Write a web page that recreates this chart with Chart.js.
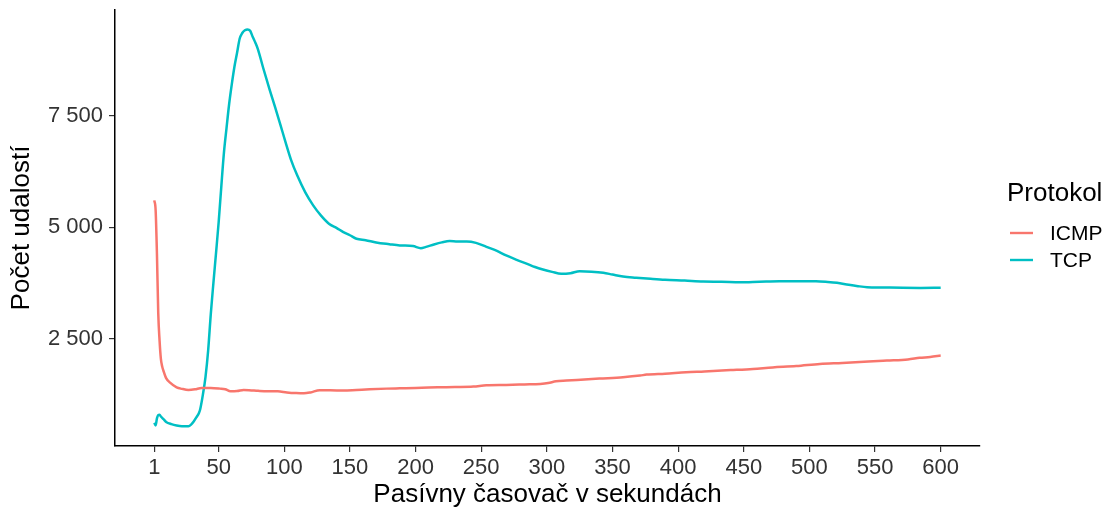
<!DOCTYPE html>
<html>
<head>
<meta charset="utf-8">
<script src="https://cdn.jsdelivr.net/npm/chart.js@4.4.1/dist/chart.umd.min.js"></script>
<style>
  html, body { margin: 0; padding: 0; background: #ffffff; }
  #wrap { width: 1114px; height: 510px; position: relative; }
</style>
</head>
<body>
<div id="wrap"><canvas id="c" width="1114" height="510"></canvas></div>
<script>
// ---- Data ----
const seriesNames = ["ICMP", "TCP"];
const seriesColors = ["#F8766D", "#00BFC4"];

const icmpX = [1, 2, 3, 4, 5, 6, 7, 8, 10, 13, 18, 22, 27, 32, 37, 44, 51, 55, 59, 64, 69, 75, 80, 87, 95, 102, 109, 115, 120, 127, 135, 145, 155, 165, 178, 188, 200, 210, 219, 230, 244, 254, 269, 283, 295, 301, 307, 315, 323, 340, 358, 371, 376, 390, 406, 420, 440, 457, 472, 490, 508, 525, 545, 559, 575, 584, 592, 600];
const icmpY = [5600, 5380, 4400, 3070, 2460, 2050, 1880, 1780, 1620, 1520, 1414, 1380, 1355, 1370, 1400, 1400, 1385, 1370, 1326, 1330, 1356, 1345, 1335, 1326, 1325, 1300, 1285, 1280, 1300, 1350, 1350, 1341, 1355, 1370, 1385, 1392, 1400, 1410, 1415, 1420, 1430, 1460, 1468, 1480, 1491, 1510, 1549, 1565, 1580, 1610, 1640, 1677, 1699, 1720, 1751, 1770, 1800, 1827, 1860, 1890, 1939, 1960, 1990, 2013, 2040, 2074, 2095, 2125];

const tcpX = [1, 2, 3, 4, 5, 6, 8, 10, 14, 18, 22, 27, 29, 31, 33, 35, 36, 38, 40, 42, 44, 46, 48, 50, 52, 54, 56, 58, 60, 62, 64, 66, 68, 70, 72, 74, 76, 78, 80, 84, 89, 93, 97, 101, 105, 110, 116, 122, 128, 134, 140, 145, 150, 155, 162, 170, 180, 188, 198, 204, 208, 214, 220, 226, 232, 239, 246, 254, 262, 269, 277, 285, 291, 297, 304, 311, 318, 325, 334, 343, 350, 358, 368, 379, 390, 405, 419, 433, 447, 462, 477, 492, 505, 514, 521, 530, 537, 544, 556, 571, 585, 600];
const tcpY = [620, 560, 720, 790, 800, 760, 700, 640, 590, 560, 545, 545, 580, 650, 740, 840, 930, 1250, 1650, 2237, 3050, 3750, 4420, 5110, 5900, 6660, 7220, 7760, 8200, 8590, 8900, 9220, 9350, 9410, 9430, 9400, 9260, 9130, 8980, 8560, 8067, 7690, 7300, 6900, 6520, 6150, 5780, 5490, 5260, 5080, 4980, 4890, 4820, 4742, 4710, 4660, 4620, 4592, 4578, 4531, 4560, 4614, 4660, 4690, 4680, 4681, 4650, 4560, 4470, 4367, 4270, 4180, 4110, 4054, 4000, 3957, 3971, 4016, 4005, 3979, 3940, 3897, 3870, 3845, 3823, 3805, 3784, 3780, 3769, 3780, 3791, 3791, 3791, 3775, 3755, 3710, 3680, 3657, 3650, 3643, 3640, 3643];

const xTickValues = [1, 50, 100, 150, 200, 250, 300, 350, 400, 450, 500, 550, 600];
const xTickLabels = ["1", "50", "100", "150", "200", "250", "300", "350", "400", "450", "500", "550", "600"];
const yTickValues = [2500, 5000, 7500];
const yTickLabels = ["2 500", "5 000", "7 500"];

const xAxisTitle = "Pasívny časovač v sekundách";
const yAxisTitle = "Počet udalostí";
const legendTitle = "Protokol";

// ---- Build datasets ----
function pts(xs, ys) { return xs.map((x, i) => ({ x: x, y: ys[i] })); }
const seriesData = [pts(icmpX, icmpY), pts(tcpX, tcpY)];

const FONT = '"Liberation Sans", Arial, sans-serif';

const ggLegend = {
  id: 'ggLegend',
  afterDraw(chart) {
    const ctx = chart.ctx;
    ctx.save();
    ctx.textBaseline = 'middle';
    ctx.textAlign = 'left';
    ctx.fillStyle = '#000000';
    ctx.font = '26px ' + FONT;
    ctx.fillText(legendTitle, 1007, 194);
    chart.data.datasets.forEach((ds, i) => {
      const y = 233 + i * 27;
      ctx.strokeStyle = ds.borderColor;
      ctx.lineWidth = 2.4;
      ctx.beginPath();
      ctx.moveTo(1010, y);
      ctx.lineTo(1033, y);
      ctx.stroke();
      ctx.fillStyle = '#000000';
      ctx.font = '21px ' + FONT;
      ctx.fillText(ds.label, 1050, y + 1);
    });
    ctx.restore();
  }
};

new Chart(document.getElementById('c'), {
  type: 'line',
  data: {
    datasets: seriesNames.map((n, i) => ({
      label: n,
      data: seriesData[i],
      borderColor: seriesColors[i],
      backgroundColor: seriesColors[i],
      borderWidth: 2.5,
      pointRadius: 0,
      fill: false,
      cubicInterpolationMode: 'monotone'
    }))
  },
  options: {
    responsive: false,
    animation: false,
    devicePixelRatio: 1,
    layout: { padding: { left: 0, right: 134, top: 10, bottom: 0 } },
    plugins: { legend: { display: false }, tooltip: { enabled: false } },
    scales: {
      x: {
        type: 'linear',
        min: -28.95,
        max: 629.95,
        afterBuildTicks: (s) => { s.ticks = xTickValues.map(v => ({ value: v })); },
        afterFit: (s) => { s.height = 64; s.paddingLeft = 0; s.paddingRight = 0; },
        ticks: {
          autoSkip: false,
          maxRotation: 0,
          padding: 3,
          color: '#333333',
          font: { family: FONT, size: 22 },
          callback: (v) => { const i = xTickValues.indexOf(v); return i >= 0 ? xTickLabels[i] : ''; }
        },
        grid: { drawOnChartArea: false, drawTicks: true, tickLength: 6, color: '#333333', lineWidth: 1.2 },
        border: { display: true, color: '#000000', width: 1.5 },
        title: { display: true, text: xAxisTitle, color: '#000000', font: { family: FONT, size: 26 }, padding: { top: 0, bottom: 0 } }
      },
      y: {
        type: 'linear',
        min: 100,
        max: 9865,
        afterBuildTicks: (s) => { s.ticks = yTickValues.map(v => ({ value: v })); },
        afterFit: (s) => { s.width = 115; s.paddingTop = 0; s.paddingBottom = 0; },
        ticks: {
          autoSkip: false,
          padding: 6,
          color: '#333333',
          font: { family: FONT, size: 22 },
          callback: (v) => { const i = yTickValues.indexOf(v); return i >= 0 ? yTickLabels[i] : ''; }
        },
        grid: { drawOnChartArea: false, drawTicks: true, tickLength: 6, color: '#333333', lineWidth: 1.2 },
        border: { display: true, color: '#000000', width: 1.5 },
        title: { display: true, text: yAxisTitle, color: '#000000', font: { family: FONT, size: 26 }, padding: { top: 6, bottom: 0 } }
      }
    }
  },
  plugins: [ggLegend]
});
</script>
</body>
</html>
